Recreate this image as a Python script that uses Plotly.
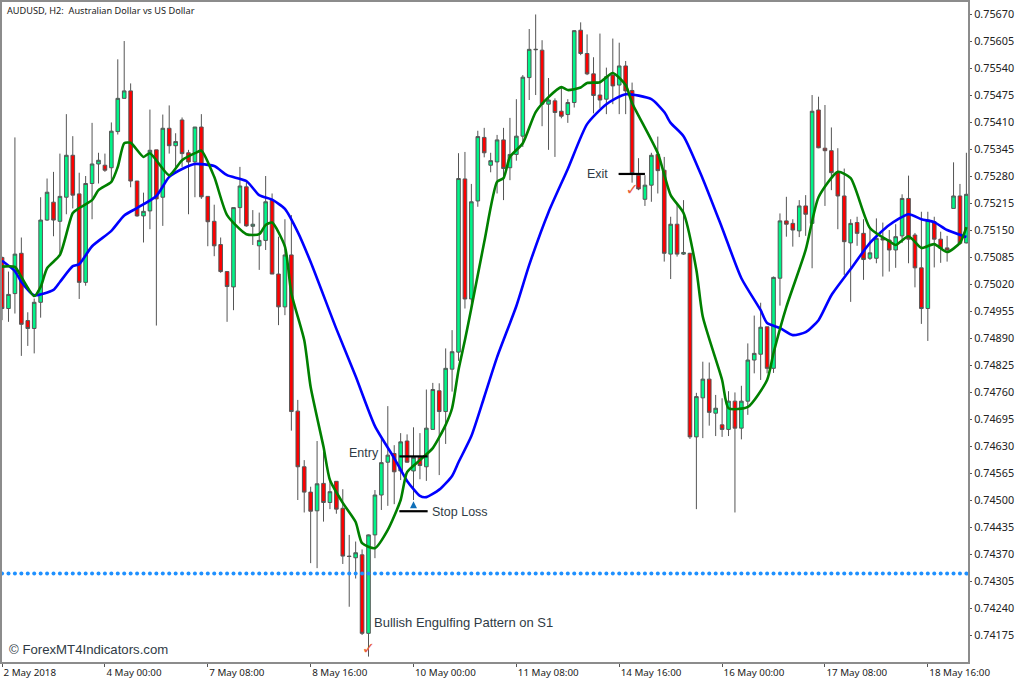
import numpy as np
import plotly.graph_objects as go

# Prices below are in points (1e-5), one entry per 2-hour bar
open_pts = [
75084,74961,74997,75094,74932,74913,74976,75174,75217,75171,
75229,75330,75237,75024,75262,75309,75306,75300,75387,75467,
75485,75268,75184,75196,75343,75229,75395,75353,75415,75336,
75314,75398,75231,75171,75115,75050,75013,75204,75254,75159,
75112,75125,75222,75044,74965,75090,74714,74580,74519,74474,
74540,74494,74545,74480,74365,74361,74368,74179,74416,74512,
74591,74612,74570,74642,74570,74603,74580,74670,74763,74713,
74815,74856,75273,74984,75220,75373,75306,75314,75367,75300,
75332,75376,75517,75584,75583,75453,75461,75436,75428,75457,
75631,75575,75526,75475,75465,75523,75499,75545,75486,75282,
75224,75258,75332,75294,75092,75164,75092,75094,74652,74746,
74791,74709,74681,74670,74738,74673,74738,74837,74851,74917,
74817,75034,75172,75166,75148,75208,75166,75439,75347,75341,
75288,75232,75119,75168,75142,75082,75082,75130,75126,75102,
75136,75226,75138,75059,74961,75170,75128,75107,75202,75232,
75119]
close_pts = [
74961,74995,75092,74923,74913,74976,75174,75241,75174,75231,
75330,75234,75024,75262,75309,75318,75294,75388,75467,75485,
75268,75184,75195,75342,75225,75395,75353,75363,75334,75314,
75398,75230,75170,75112,75050,75014,75204,75256,75160,75164,
75125,75218,75044,74965,75090,74713,74580,74519,74473,74539,
74494,74520,74478,74365,74364,74373,74179,74416,74512,74590,
74608,74568,74640,74591,74603,74583,74673,74766,74713,74817,
74857,75274,74984,75218,75375,75336,75317,75367,75298,75332,
75376,75518,75585,75585,75453,75463,75433,75424,75457,75630,
75575,75526,75474,75463,75519,75497,75545,75485,75286,75249,
75258,75330,75293,75094,75164,75092,75096,74652,74749,74791,
74711,74721,74670,74738,74673,74738,74837,74853,74916,74817,
75036,75172,75164,75150,75208,75188,75436,75348,75341,75288,
75232,75122,75166,75142,75079,75095,75130,75126,75102,75134,
75226,75128,75059,74961,75174,75128,75106,75102,75232,75118,
75236]
high_pts = [
75086,75050,75373,75132,74952,74985,75229,75274,75290,75334,
75429,75376,75288,75280,75408,75336,75334,75409,75561,75605,
75503,75268,75240,75440,75343,75428,75450,75383,75421,75343,
75398,75429,75231,75211,75132,75050,75204,75302,75270,75198,
75192,75280,75238,75134,75176,75186,74741,74596,74532,74642,
74616,74544,74545,74526,74416,74400,74381,74417,74524,74648,
74726,74632,74661,74658,74675,74661,74766,74782,74781,74865,
74909,75335,75338,75261,75389,75396,75336,75379,75396,75420,
75465,75523,75634,75669,75607,75516,75467,75492,75465,75631,
75650,75621,75566,75623,75541,75611,75601,75557,75505,75323,
75282,75336,75375,75326,75182,75213,75222,75095,74758,74833,
74831,74753,74745,74762,74759,74775,74877,74944,74975,74917,
75038,75190,75230,75176,75222,75234,75475,75471,75451,75397,
75347,75298,75176,75182,75176,75158,75178,75168,75150,75164,
75236,75281,75143,75194,75194,75182,75146,75136,75313,75261,
75336]
low_pts = [
74933,74929,74949,74847,74871,74853,74939,75172,75135,75094,
75188,75202,74984,75016,75176,75262,75290,75270,75380,75467,
75253,75182,75120,75152,74920,75160,75334,75302,75302,75188,
75229,75225,75111,75087,75047,74929,74957,75166,75158,75114,
75054,75102,75044,74921,74945,74667,74500,74470,74348,74336,
74448,74478,74467,74346,74243,74311,74175,74123,74360,74476,
74486,74490,74548,74590,74500,74550,74546,74670,74560,74635,
74761,74835,74961,74961,75206,75325,75289,75238,75222,75270,
75317,75350,75463,75475,75400,75343,75326,75419,75408,75445,
75571,75523,75431,75443,75429,75453,75429,75429,75264,75246,
75208,75218,75238,75074,75032,75086,75090,74647,74478,74649,
74679,74654,74652,74654,74470,74646,74705,74805,74789,74805,
74806,74968,75134,75110,75133,75136,75058,75347,75208,75246,
75152,75042,74977,75112,75030,75078,75070,75038,75050,75059,
75119,75070,75012,74924,74883,75060,75071,75074,75202,75114,
75118]

blue_bars = [0,2,3,5,8,9,11,12,14,17,19,21,24,26,28,30,33,35,38,40,42,44,46,48,52,55,58,61,63,65,66,68,70,71,73,75,77,80,82,85,88,91,94,97,101,103,104,106,109,112,115,118,119,121,123,125,127,129,132,135,138,141,143,145,147,150]
blue_pts = [75076,75051,75025,74993,75006,75025,75063,75068,75111,75148,75185,75203,75232,75278,75297,75309,75304,75282,75268,75234,75223,75201,75145,75073,74912,74798,74678,74601,74546,74510,74507,74525,74558,74591,74654,74748,74844,74967,75066,75193,75297,75405,75453,75477,75465,75434,75408,75376,75273,75155,75034,74957,74926,74914,74897,74904,74933,74993,75056,75119,75162,75188,75176,75169,75150,75133]
green_bars = [0,2,3,5,6,7,9,11,12,14,15,17,18,19,20,22,23,26,28,30,31,33,35,38,40,41,42,44,45,47,48,50,51,53,55,56,58,60,62,63,65,67,69,70,71,72,73,75,77,78,79,81,83,85,87,88,90,91,93,95,97,98,102,104,106,108,109,112,113,116,119,120,122,125,127,130,132,135,138,139,141,143,145,147,149,150]
green_pts = [75062,75061,75037,74991,75013,75058,75090,75191,75203,75222,75246,75266,75302,75359,75360,75326,75335,75282,75318,75335,75341,75278,75186,75140,75140,75162,75168,75110,74998,74885,74772,74628,74548,74493,74447,74396,74384,74428,74500,74567,74596,74625,74681,74721,74813,74885,74962,75121,75266,75275,75326,75359,75434,75470,75494,75487,75493,75504,75506,75528,75499,75456,75335,75234,75191,75054,74941,74789,74721,74724,74789,74854,74965,75102,75229,75290,75275,75155,75123,75114,75135,75107,75116,75097,75119,75157]

s1_pts = 74323
entry_pts = 74605
stop_pts = 74473
exit_pts = 75285
arrow_pts = 74497
check_bars = [57, 98]
check_pts = [74139, 75245]

y_labels = ["0.75670","0.75605","0.75540","0.75475","0.75410","0.75345","0.75280","0.75215","0.75150","0.75085","0.75020","0.74955","0.74890","0.74825","0.74760","0.74695","0.74630","0.74565","0.74500","0.74435","0.74370","0.74305","0.74240","0.74175"]
x_tick_bars = [0,16,32,48,64,80,96,112,128,144]
x_labels = ["2 May 2018","4 May 00:00","7 May 08:00","8 May 16:00","10 May 00:00","11 May 08:00","14 May 16:00","16 May 00:00","17 May 08:00","18 May 16:00"]

P = 1e-5
bars = np.arange(len(open_pts))
FONT = "Noto Sans"
INK = "#2f3b45"

fig = go.Figure()
fig.add_trace(go.Candlestick(
    x=bars, open=np.array(open_pts)*P, high=np.array(high_pts)*P,
    low=np.array(low_pts)*P, close=np.array(close_pts)*P,
    increasing=dict(fillcolor="#00F588", line=dict(color="#555555", width=1)),
    decreasing=dict(fillcolor="#FF0000", line=dict(color="#555555", width=1)),
    whiskerwidth=0, showlegend=False))
fig.add_trace(go.Scatter(x=blue_bars, y=np.array(blue_pts)*P, mode="lines",
                         line=dict(color="#0000FF", width=2.6, shape="spline", smoothing=0.6), showlegend=False))
fig.add_trace(go.Scatter(x=green_bars, y=np.array(green_pts)*P, mode="lines",
                         line=dict(color="#008000", width=2.6, shape="spline", smoothing=0.6), showlegend=False))
fig.add_trace(go.Scatter(x=bars, y=np.full(len(bars), s1_pts)*P, mode="markers",
                         marker=dict(color="#1E90FF", size=4), showlegend=False))
for lo, hi, lvl in [(61.8, 66.2, entry_pts), (61.8, 66.2, stop_pts), (95.9, 100, exit_pts)]:
    fig.add_trace(go.Scatter(x=[lo, hi], y=[lvl*P, lvl*P], mode="lines",
                             line=dict(color="#000000", width=2.2), showlegend=False))
fig.add_trace(go.Scatter(x=[64], y=[arrow_pts*P], mode="markers",
                         marker=dict(symbol="arrow-up", color="#0F6FB8", size=7),
                         showlegend=False))
fig.add_trace(go.Scatter(x=check_bars, y=np.array(check_pts)*P, mode="text", text=["✓", "✓"],
                         textfont=dict(color="#E8603C", size=16, family="DejaVu Sans"),
                         showlegend=False))

notes = [
    (0.0035, 1.0, "AUDUSD, H2:  Australian Dollar vs US Dollar", 9.2, "#222222", "paper", "paper", "left"),
    (53.7, entry_pts+8, "Entry", 12.5, INK, "x", "y", "left"),
    (66.6, stop_pts-1, "Stop Loss", 12.5, INK, "x", "y", "left"),
    (90.7, exit_pts, "Exit", 12.5, INK, "x", "y", "left"),
    (57.6, 74205, "Bullish Engulfing Pattern on S1", 13, INK, "x", "y", "left"),
    (0.7, 74140, "© ForexMT4Indicators.com", 13.2, INK, "x", "y", "left"),
]
for x, y, text, size, color, xr, yr, anchor in notes:
    fig.add_annotation(x=x, y=(y*P if yr == "y" else y), xref=xr, yref=yr, text=text,
                       showarrow=False, xanchor=anchor, yanchor="top" if yr == "paper" else "middle",
                       align="left", font=dict(family=FONT if yr == "paper" else "Liberation Sans", size=size, color=color))

fig.update_layout(
    width=1024, height=681, autosize=False,
    margin=dict(l=2, r=56, t=2, b=19, pad=0),
    paper_bgcolor="white", plot_bgcolor="white",
    showlegend=False, hovermode=False, boxgap=0.2,
    font=dict(family=FONT, size=10.5, color="#222222"),
    xaxis=dict(range=[-0.01, 150.25], rangeslider=dict(visible=False), showgrid=False, zeroline=False,
               showline=True, mirror=True, linecolor="#8c8c8c", linewidth=2,
               tickmode="array", tickvals=x_tick_bars, ticktext=x_labels, ticks="outside",
               ticklen=3, tickcolor="#555555", tickwidth=1, tickangle=0, tickfont=dict(size=9.8),
               ticklabelposition="outside right", automargin=False),
    yaxis=dict(range=[0.74110, 0.75699], side="right", showgrid=False, zeroline=False,
               showline=True, mirror=True, linecolor="#8c8c8c", linewidth=2,
               tickmode="array", tickvals=[float(v) for v in y_labels], ticktext=y_labels,
               ticks="outside", ticklen=2, tickcolor="#555555", tickwidth=1, tickfont=dict(size=10.8),
               automargin=False),
)
fig.write_html("out.html", config={"displayModeBar": False},
               post_script="document.body.style.margin='0';document.body.style.overflow='hidden';")
